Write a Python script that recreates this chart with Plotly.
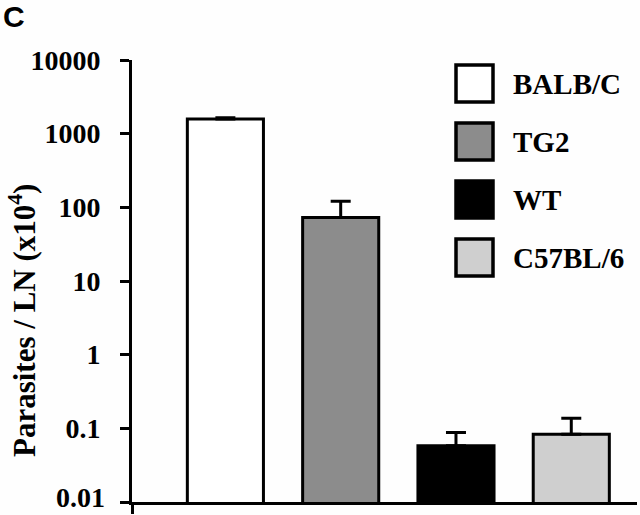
import plotly.graph_objects as go

categories = ["BALB/C", "TG2", "WT", "C57BL/6"]
values = [1580, 73, 0.058, 0.083]
errors_plus = [70, 48, 0.030, 0.054]
colors = ["#ffffff", "#8c8c8c", "#000000", "#cfcfcf"]
y_tick_vals = [0.01, 0.1, 1, 10, 100, 1000, 10000]
y_tick_text = ["0.01", "0.1", "1", "10", "100", "1000", "10000"]

W, H = 640, 515
ML, MR, MT, MB = 132, 3, 60, 13
PW, PH = W - ML - MR, H - MT - MB


def px_x(px):
    return (px - ML) / PW


def px_y(py):
    return (H - MB - py) / PH


SERIF = "Liberation Serif, Times New Roman, serif"
TICK_SIZE = 28

fig = go.Figure()
for i, (cat, v, e, c) in enumerate(zip(categories, values, errors_plus, colors)):
    fig.add_trace(go.Bar(
        x=[i], y=[v], name=cat,
        marker=dict(color=c, line=dict(color="black", width=3)),
        width=0.66,
        error_y=dict(type="data", array=[e], arrayminus=[0], symmetric=False,
                     color="black", thickness=3, width=10),
        showlegend=False,
    ))

# legend drawn as boxes + labels
for k, (cat, c) in enumerate(zip(categories, colors)):
    top = 65 + k * 58
    fig.add_shape(type="rect", xref="paper", yref="paper",
                  x0=px_x(456), x1=px_x(493), y0=px_y(top + 37), y1=px_y(top),
                  fillcolor=c, line=dict(color="black", width=3.5))
    fig.add_annotation(xref="paper", yref="paper", x=px_x(511), y=px_y(top + 19),
                       text=f"<b>{cat}</b>", showarrow=False, xanchor="left", yanchor="middle",
                       font=dict(family=SERIF, size=29, color="black"))

fig.add_annotation(xref="paper", yref="paper", x=px_x(22), y=px_y(321),
                   text="<b>Parasites / LN (x10<sup>4</sup>)</b>", textangle=-90,
                   showarrow=False, xanchor="center", yanchor="middle",
                   font=dict(family=SERIF, size=31, color="black"))
fig.add_annotation(xref="paper", yref="paper", x=px_x(1), y=px_y(-2),
                   text="<b>C</b>", showarrow=False, xanchor="left", yanchor="top",
                   font=dict(family="Liberation Sans, Arial, sans-serif", size=30, color="black"))

# lowest tick label drawn as an annotation so it stays inside the canvas
fig.add_annotation(xref="paper", yref="paper", x=px_x(107), y=px_y(515),
                   text=f"<b>{y_tick_text[0]}</b>", showarrow=False,
                   xanchor="right", yanchor="bottom",
                   font=dict(family=SERIF, size=TICK_SIZE, color="black"))

fig.update_layout(
    width=W, height=H, autosize=False,
    margin=dict(l=ML, r=MR, t=MT, b=MB, pad=0, autoexpand=False),
    paper_bgcolor="#fefefe", plot_bgcolor="#fefefe",
    barmode="overlay",
    xaxis=dict(range=[-0.81, 3.57], showgrid=False, zeroline=False, automargin=False,
               showline=True, linecolor="black", linewidth=3,
               tickmode="array", tickvals=[-0.81], ticks="outside", ticklen=9,
               tickwidth=3, tickcolor="black", showticklabels=False),
    yaxis=dict(type="log", range=[-2, 4], showgrid=False, zeroline=False, automargin=False,
               showline=True, linecolor="black", linewidth=3,
               tickmode="array", tickvals=y_tick_vals,
               ticktext=[""] + [f"<b>{t}</b>" for t in y_tick_text[1:]],
               ticks="outside", ticklen=9, tickwidth=3, tickcolor="black",
               ticklabelstandoff=14,
               tickfont=dict(family=SERIF, size=TICK_SIZE, color="black")),
)

fig.write_html("out.html", config={"displayModeBar": False},
               post_script="document.body.style.margin='0';document.body.style.background='#fefefe';")
